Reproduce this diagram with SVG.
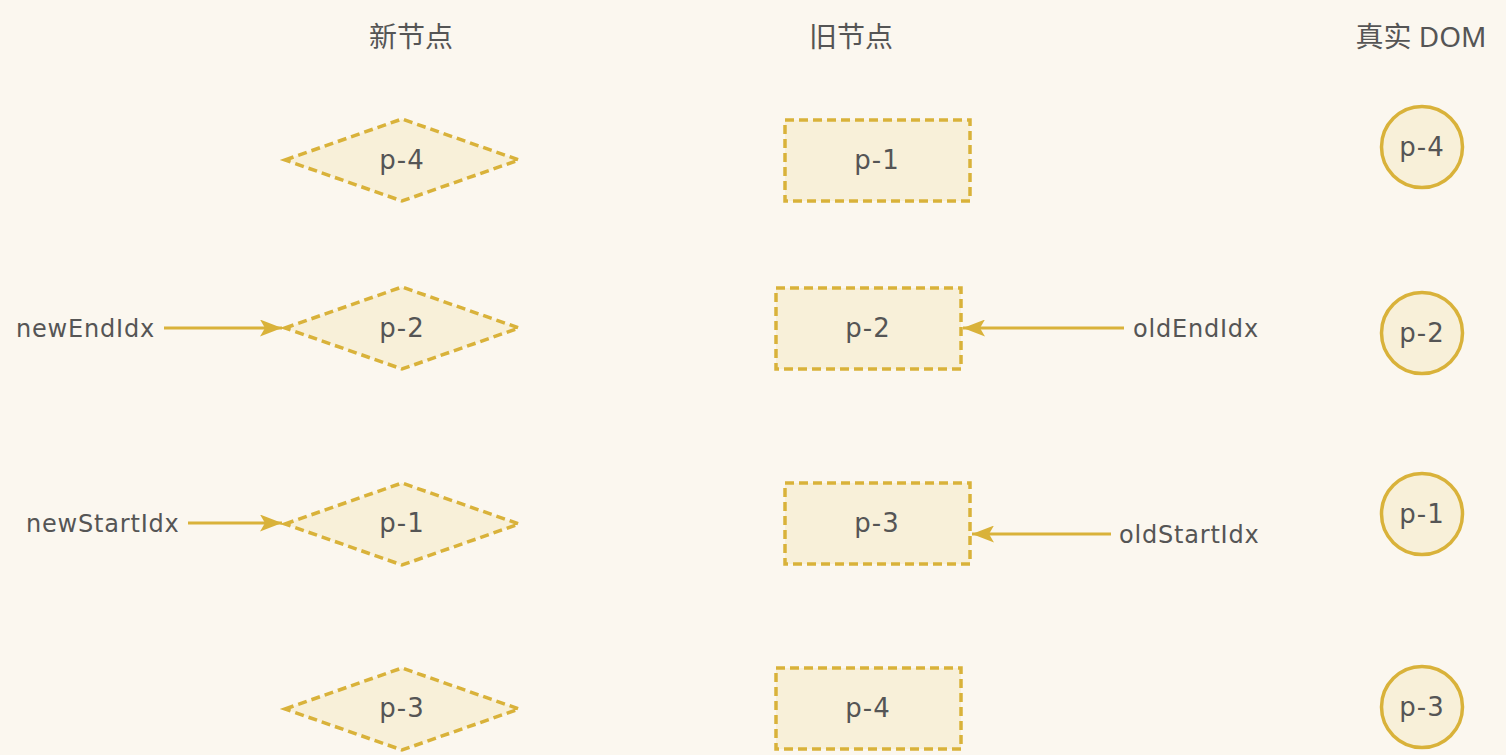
<svg xmlns="http://www.w3.org/2000/svg" width="1506" height="755" viewBox="0 0 1506 755">
<style>
.bg{fill:#fbf7ef}
.shape{fill:#f8f0d9;stroke:#d9b23a;stroke-width:3.5;stroke-dasharray:9 5}
.dom{fill:#f8f0d9;stroke:#d9b23a;stroke-width:3.5}
.lbl{font-family:"DejaVu Sans","Liberation Sans",sans-serif;font-size:26px;fill:#555555;text-anchor:middle;letter-spacing:1px}
.hdr{font-family:"Noto Sans","Noto Sans CJK SC",sans-serif;font-size:28px;fill:#555555;text-anchor:middle}
.ptr{font-family:"DejaVu Sans","Liberation Sans",sans-serif;font-size:24px;fill:#555555;letter-spacing:0.8px}
.edge{stroke:#d9b23a;stroke-width:3;fill:none}
</style>
<defs>
<marker id="ah" viewBox="0 0 22 17" refX="22" refY="8.5" markerWidth="22" markerHeight="17" markerUnits="userSpaceOnUse" orient="auto">
<path d="M0,0 L22,8.5 L0,17 L5,8.5 Z" fill="#d9b23a"/>
</marker>
</defs>
<rect class="bg" x="0" y="0" width="1506" height="755"/>
<g id="headers">
<text class="hdr" x="411" y="47">新节点</text>
<text class="hdr" x="851" y="47">旧节点</text>
<text class="hdr" x="1421" y="47">真实 DOM</text>
</g>
<g id="new-p4"><polygon class="shape" points="285,160 402,119 519,160 402,201"/><text class="lbl" x="402" y="169">p-4</text></g>
<g id="new-p2"><polygon class="shape" points="285,328 402,287 519,328 402,369"/><text class="lbl" x="402" y="337">p-2</text></g>
<g id="new-p1"><polygon class="shape" points="285,524 402,483 519,524 402,565"/><text class="lbl" x="402" y="532">p-1</text></g>
<g id="new-p3"><polygon class="shape" points="285,709 402,668 519,709 402,750"/><text class="lbl" x="402" y="717">p-3</text></g>
<g id="old-p1"><rect class="shape" x="785" y="120" width="185" height="81"/><text class="lbl" x="877" y="169">p-1</text></g>
<g id="old-p2"><rect class="shape" x="776" y="288" width="185" height="81"/><text class="lbl" x="868" y="337">p-2</text></g>
<g id="old-p3"><rect class="shape" x="785" y="483" width="185" height="81"/><text class="lbl" x="877" y="532">p-3</text></g>
<g id="old-p4"><rect class="shape" x="776" y="668" width="185" height="81"/><text class="lbl" x="868" y="717">p-4</text></g>
<g id="dom-p4"><circle class="dom" cx="1422" cy="147" r="40.5"/><text class="lbl" x="1422" y="156">p-4</text></g>
<g id="dom-p2"><circle class="dom" cx="1422" cy="333" r="40.5"/><text class="lbl" x="1422" y="342">p-2</text></g>
<g id="dom-p1"><circle class="dom" cx="1422" cy="514" r="40.5"/><text class="lbl" x="1422" y="523">p-1</text></g>
<g id="dom-p3"><circle class="dom" cx="1422" cy="707" r="40.5"/><text class="lbl" x="1422" y="716">p-3</text></g>
<g id="pointers">
<text class="ptr" x="16" y="337">newEndIdx</text>
<text class="ptr" x="26" y="532">newStartIdx</text>
<text class="ptr" x="1133" y="337">oldEndIdx</text>
<text class="ptr" x="1119" y="543">oldStartIdx</text>
</g>
<g id="connectors">
<line class="edge" x1="164" y1="328" x2="282" y2="328" marker-end="url(#ah)"/>
<line class="edge" x1="188" y1="523" x2="282" y2="523" marker-end="url(#ah)"/>
<line class="edge" x1="1124" y1="328" x2="963" y2="328" marker-end="url(#ah)"/>
<line class="edge" x1="1111" y1="534" x2="972" y2="534" marker-end="url(#ah)"/>
</g>
</svg>
